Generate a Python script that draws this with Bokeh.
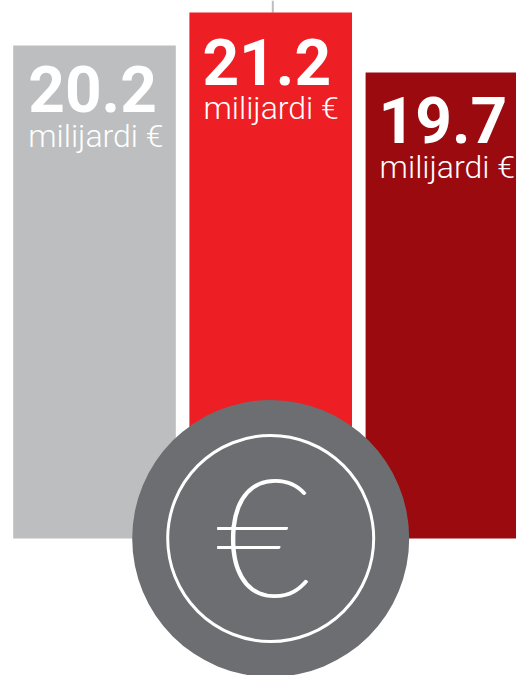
from bokeh.plotting import figure
from bokeh.models import ColumnDataSource, Range1d
from bokeh.core.properties import value
from bokeh.embed import file_html
from bokeh.resources import INLINE

# Data
positions = [1, 2, 3]
bar_lengths = [19.87, 21.2, 18.78]
bar_colors = ["#bcbec0", "#ed1f24", "#9b0a0e"]
amounts = ["20.2", "21.2", "19.7"]
units = ["milijardi €", "milijardi €", "milijardi €"]

W, H = 516, 675
BAR_W = 0.923
PX_X = 176.2
PX_Y = 526 / 21.2
x0 = 1 - 94.0 / PX_X
y1 = 538 / PX_Y

p = figure(width=W, height=H, output_backend="svg", toolbar_location=None,
           x_range=Range1d(x0, x0 + W / PX_X), y_range=Range1d(y1 - H / PX_Y, y1),
           min_border=0, outline_line_color=None, background_fill_color="white",
           border_fill_color="white")
p.axis.visible = False
p.grid.visible = False

# connector above the tallest bar
p.segment(x0=[2.012], y0=[21.2], x1=[2.012], y1=[y1], line_color="#bcbec0", line_width=2)

src = ColumnDataSource(dict(
    x=positions, top=bar_lengths, color=bar_colors,
    left=[v - BAR_W / 2 for v in positions], amount=amounts, unit=units,
    xo_a=[15, 13, 13], xo_u=[15, 14, 14], yo_a=[44, 49, 47], yo_u=[91, 95, 94]))
p.vbar(x="x", width=BAR_W, bottom=0, top="top", fill_color="color", line_color=None, source=src)

p.text(x="left", y="top", text="amount", source=src, x_offset="xo_a", y_offset="yo_a",
       text_color="white", text_font=value("Roboto"), text_font_style="bold",
       text_font_size="64px", text_baseline="alphabetic", text_align="left")
p.text(x="left", y="top", text="unit", source=src, x_offset="xo_u", y_offset="yo_u",
       text_color="white", text_font=value("Roboto Light"),
       text_font_size="32px", text_baseline="alphabetic", text_align="left")

# Euro badge
p.scatter(x=[2], y=[0], size=277, marker="circle", fill_color="#6d6e71", line_color=None)
p.scatter(x=[2], y=[0], size=206, marker="circle", fill_color=None, line_color="white", line_width=3)
p.text(x=[2], y=[0], text=["€"], x_offset=-7, y_offset=-6, text_color="white", text_font=value("Lato Thin"),
       text_font_size="165px", text_baseline="middle", text_align="center")

open("out.html", "w").write(file_html(p, INLINE))
